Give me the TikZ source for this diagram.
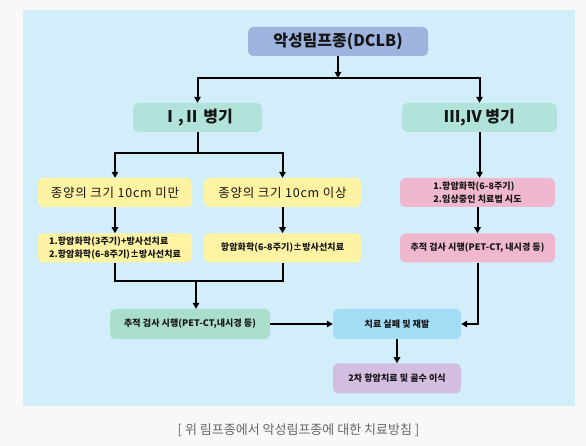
\documentclass[tikz,border=0pt]{standalone}
\usepackage{fontspec}
\setmainfont{Noto Sans CJK KR}
\usetikzlibrary{positioning,arrows.meta}
\definecolor{pagebg}{HTML}{F8F8F8}
\definecolor{panelbg}{HTML}{D3EEFB}
\definecolor{topfill}{HTML}{9DB4DE}
\definecolor{stagefill}{HTML}{B2E3DA}
\definecolor{sizefill}{HTML}{FDF3A3}
\definecolor{chemofill}{HTML}{F0B8CE}
\definecolor{followfill}{HTML}{ABDDCB}
\definecolor{failfill}{HTML}{A2DCF5}
\definecolor{rescuefill}{HTML}{D3BDE0}
\definecolor{inktext}{HTML}{151515}
\definecolor{captext}{HTML}{666666}
\begin{document}
\begin{tikzpicture}[
		x=1pt, y=1pt,
		node distance=26pt,
		box/.style={rectangle, rounded corners=5pt, inner sep=0pt, align=center, minimum height=29pt, text=inktext},
		small/.style={font=\fontsize{9}{12.5}\selectfont\bfseries\addfontfeatures{LetterSpace=1}},
		heading/.style={font=\fontsize{16}{18}\selectfont\bfseries},
		arrow/.style={-{Triangle[length=6pt,width=6.5pt]}, line width=2pt},
		link/.style={line width=2pt}
		]
		
		% background and panel
		\fill[pagebg] (0,0) rectangle (586,446);
		\fill[panelbg] (23,40.3) rectangle (575,436);
		
		\node[box, fill=topfill, minimum width=180pt, heading] (top) at (338,404.5) {악성림프종(DCLB)};
		\node[box, fill=stagefill, minimum width=129pt, heading] (stage12) at (197.5,328.5) {Ⅰ,Ⅱ 병기};
		\node[box, fill=stagefill, minimum width=155pt, heading] (stage34) at (479.5,328.5) {Ⅲ,Ⅳ 병기};
		
		\node[box, fill=sizefill, minimum width=154pt, font=\fontsize{12.5}{15}\selectfont\addfontfeatures{LetterSpace=6}] (size1) at (115,253.5) {종양의 크기 10cm 미만};
		\node[box, fill=sizefill, minimum width=157pt, font=\fontsize{12.5}{15}\selectfont\addfontfeatures{LetterSpace=6}] (size2) at (282.5,253.5) {종양의 크기 10cm 이상};
		\node[box, fill=sizefill, minimum width=154pt, small, align=left] (tx1) [below=of size1] {1.항암화학(3주기)+방사선치료\\2.항암화학(6-8주기)±방사선치료};
		\node[box, fill=sizefill, minimum width=157pt, small] (tx2) [below=of size2] {항암화학(6-8주기)±방사선치료};
		
		\node[box, fill=chemofill, minimum width=155pt, small, align=left] (chemo) at (477.5,253.5) {1.항암화학(6-8주기)\\2.임상중인 치료법 시도};
		\node[box, fill=chemofill, minimum width=155pt, small] (recheck) [below=of chemo] {추적 검사 시행(PET-CT, 내시경 등)};
		
		\node[box, fill=followfill, minimum width=160pt, minimum height=30pt, small] (follow) at (190,122) {추적 검사 시행(PET-CT,내시경 등)};
		\node[box, fill=failfill, minimum width=128pt, minimum height=30pt, small] (fail) at (397,122) {치료 실패 및 재발};
		\node[box, fill=rescuefill, minimum width=128pt, minimum height=30pt, small] (rescue) [below=24pt of fail] {2차 항암치료 및 골수 이식};
		
		\node[text=captext, font=\fontsize{13}{16}\selectfont] (caption) at (298.5,16) {[ 위 림프종에서 악성림프종에 대한 치료방침 ]};
		
		\coordinate (stagebar) at (338,368);
		\coordinate (sizebar) at (197.5,293);
		\coordinate (mergebar) at (196,165);
		
		\draw[arrow] (top) -- (stagebar);
		\draw[arrow] (stagebar) -| (stage12);
		\draw[arrow] (stagebar) -| (stage34);
		\draw[link] (stage12) -- (sizebar);
		\draw[arrow] (sizebar) -| (size1);
		\draw[arrow] (sizebar) -| (size2);
		\draw[arrow] (size1) -- (tx1);
		\draw[arrow] (size2) -- (tx2);
		\draw[link] (tx1.south) |- (mergebar) -| (tx2.south);
		\draw[arrow] (mergebar) -- (mergebar |- follow.north);
		\draw[arrow] (follow) -- (fail);
		\draw[arrow] (stage34) -- (stage34 |- chemo.north);
		\draw[arrow] (chemo) -- (recheck);
		\draw[arrow] (recheck) |- (fail);
		\draw[arrow] (fail) -- (rescue);
		
	\end{tikzpicture}
\end{document}
